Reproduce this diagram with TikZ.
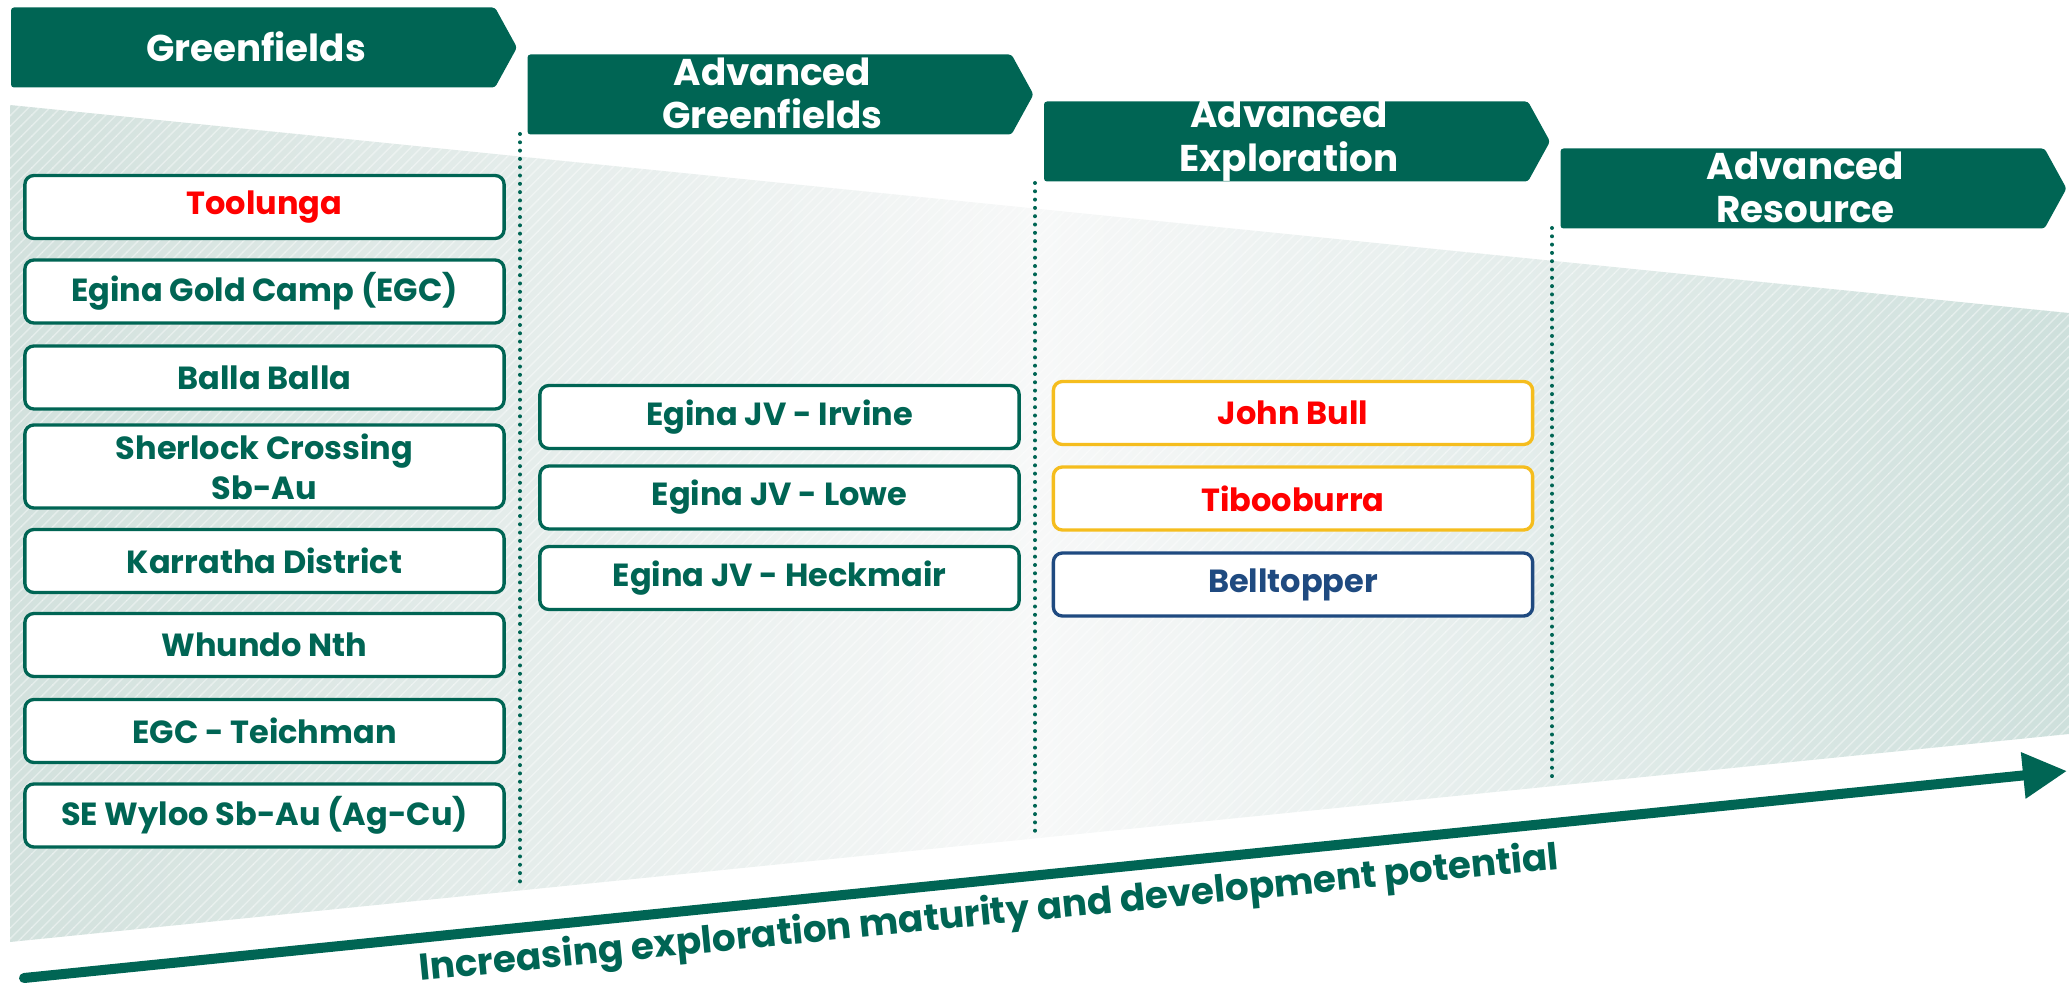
\documentclass[tikz,border=0pt]{standalone}
\usepackage{fontspec}
\setmainfont{Poppins}
\usepackage{xcolor}
\usetikzlibrary{arrows.meta,patterns,positioning}

\definecolor{pipegreen}{RGB}{0,101,84}
\definecolor{flagred}{RGB}{255,0,0}
\definecolor{flaggold}{RGB}{245,189,30}
\definecolor{flagblue}{RGB}{31,74,128}
\definecolor{hazeleft}{RGB}{210,225,221}
\definecolor{hazemid}{RGB}{247,248,248}
\definecolor{hazeright}{RGB}{206,224,220}

\begin{document}
\begin{tikzpicture}[
    x=0.01cm, y=-0.01cm,
    stage/.style={text=white, font=\bfseries\fontsize{10.6}{12.4}\selectfont, align=center},
    project/.style={draw=pipegreen, line width=0.95pt, rounded corners=0.09cm, fill=white,
        minimum width=4.79cm, minimum height=0.63cm, inner sep=0pt, align=center,
        text=pipegreen, font=\bfseries\fontsize{9.1}{11.3}\selectfont},
    hot/.style={text=flagred},
    divider/.style={pipegreen, line width=0.04cm, line cap=round, dash pattern=on 0pt off 0.083cm}
]
    \useasboundingbox (0,0) rectangle (2069,991);

    % Maturity wedge
    \shade[left color=hazeleft, right color=hazeright, middle color=hazemid]
        (10,105) -- (2069,313) -- (2069,734) -- (10,942) -- cycle;
    \fill[pattern=north east lines, pattern color=white, opacity=0.4]
        (10,105) -- (2069,313) -- (2069,734) -- (10,942) -- cycle;

    % Stage headers
    \foreach \i/\lbl in {0/Greenfields, 1/{Advanced\\Greenfields}, 2/{Advanced\\Exploration}, 3/{Advanced\\Resource}} {
        \fill[pipegreen, rounded corners=0.03cm] ({11+516.5*\i},{7.5+47*\i}) -- ++(484,0) -- ++(22,40) -- ++(-22,40) -- ++(-484,0) -- cycle;
        \node[stage] (stage\i) at ({11+516.5*\i+245},{7.5+47*\i+39}) {\lbl};
    }

    % Dividers between stages
    \coordinate (d1top) at (520,134);
    \coordinate (d1bot) at (520,886);
    \coordinate (d2top) at (1035,183);
    \coordinate (d2bot) at (1035,834);
    \coordinate (d3top) at (1552,228);
    \coordinate (d3bot) at (1552,782);
    \foreach \d in {1,2,3} {
        \draw[divider] (d\d top) -- (d\d bot);
    }

    % Greenfields projects
    \node[project, hot] (toolunga) at (264.5,207) {Toolunga};
    \node[project] (egc) at (264.5,291.5) {Egina Gold Camp (EGC)};
    \node[project] (balla) at (264.5,377.5) {Balla Balla};
    \node[project, minimum height=0.83cm] (sherlock) at (264.5,466.5) {Sherlock Crossing\\Sb-Au};
    \node[project] (karratha) at (264.5,561) {Karratha District};
    \node[project] (whundo) at (264.5,645) {Whundo Nth};
    \node[project] (teichman) at (264.5,731) {EGC - Teichman};
    \node[project] (wyloo) at (264.5,815.5) {SE Wyloo Sb-Au (Ag-Cu)};

    % Advanced greenfields projects
    \node[project] (irvine) at (779.5,417) {Egina JV - Irvine};
    \node[project] (lowe) at (779.5,497.5) {Egina JV - Lowe};
    \node[project] (heckmair) at (779.5,578) {Egina JV - Heckmair};

    % Advanced exploration projects
    \node[project, hot, draw=flaggold] (johnbull) at (1293,413) {John Bull};
    \node[project, hot, draw=flaggold] (tibooburra) at (1293,498.5) {Tibooburra};
    \node[project, draw=flagblue, text=flagblue] (belltopper) at (1293,584.5) {Belltopper};

    % Maturity arrow
    \coordinate (axstart) at (24,978);
    \coordinate (axend) at (2067,771);
    \draw[pipegreen, line width=0.1cm, line cap=round, -{Triangle[length=0.44cm, width=0.44cm]}] (axstart) -- (axend);
    \node[text=pipegreen, font=\bfseries\fontsize{10.6}{13}\selectfont, rotate=5.6, anchor=base] (axlabel) at (990,925) {Increasing exploration maturity and development potential};
\end{tikzpicture}
\end{document}
